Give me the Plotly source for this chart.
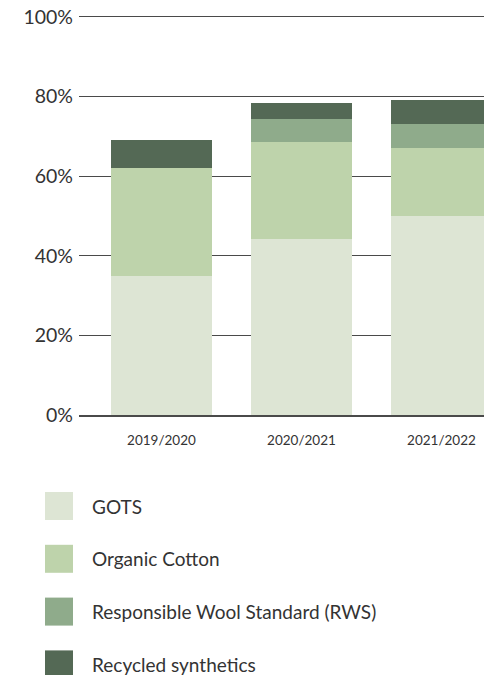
import plotly.graph_objects as go

# ---- data ----
years = ["2019/2020", "2020/2021", "2021/2022"]
series_names = ["GOTS", "Organic Cotton", "Responsible Wool Standard (RWS)", "Recycled synthetics"]
gots = [35.0, 44.3, 50.0]
organic_cotton = [27.0, 24.2, 17.0]
rws = [0.0, 5.8, 6.0]
recycled_synthetics = [7.0, 4.0, 6.1]
y_ticks = [0, 20, 40, 60, 80, 100]
y_tick_labels = [f"{v}%" for v in y_ticks]

series_values = [gots, organic_cotton, rws, recycled_synthetics]
colors = ["#dde5d4", "#bed3ab", "#8fab8b", "#546955"]

FONT = "Lato"
TEXT = "#333333"
W, H = 484, 675
ML, MR, MT, MB = 79, 0, 13, 260

fig = go.Figure()
for name, vals, col in zip(series_names, series_values, colors):
    fig.add_trace(go.Bar(
        x=years, y=vals, name=name, marker=dict(color=col, line=dict(width=0)),
        width=0.72, showlegend=False, hoverinfo="x+y+name",
    ))

plot_w = W - ML - MR
plot_h = H - MT - MB


def px_to_paper_x(px):
    return (px - ML) / plot_w


def px_to_paper_y(py):
    return (H - MB - py) / plot_h


leg_top = 492
leg_step = 52.8
sw = 28
for i, (name, col) in enumerate(zip(series_names, colors)):
    y0 = leg_top + i * leg_step
    fig.add_shape(type="rect", xref="paper", yref="paper",
                  x0=px_to_paper_x(45), x1=px_to_paper_x(45 + sw),
                  y0=px_to_paper_y(y0 + sw), y1=px_to_paper_y(y0),
                  fillcolor=col, line=dict(width=0))
    fig.add_annotation(xref="paper", yref="paper", x=px_to_paper_x(90),
                       y=px_to_paper_y(y0 + sw / 2), text=name, showarrow=False,
                       xanchor="left", yanchor="middle",
                       font=dict(family=FONT, size=19, color=TEXT))

fig.update_layout(
    width=W, height=H,
    margin=dict(l=ML, r=MR, t=MT, b=MB, pad=0),
    barmode="stack",
    plot_bgcolor="white", paper_bgcolor="white",
    font=dict(family=FONT, color=TEXT),
    xaxis=dict(
        range=[-0.589, 2.304], showgrid=False, zeroline=False,
        showline=True, linecolor="#4a4a4a", linewidth=1.5,
        ticks="", tickfont=dict(size=13.5, color=TEXT), ticklabelstandoff=12,
    ),
    yaxis=dict(
        range=[0, 101], tickmode="array", tickvals=y_ticks, ticktext=y_tick_labels,
        showgrid=True, gridcolor="#4a4a4a", gridwidth=1.2,
        zeroline=False, showline=False, ticks="",
        tickfont=dict(size=19.5, color=TEXT), ticklabelstandoff=5,
    ),
)

fig.write_html(
    "out.html",
    config={"displayModeBar": False},
    post_script="document.body.style.margin='0';document.body.style.overflow='hidden';",
)
